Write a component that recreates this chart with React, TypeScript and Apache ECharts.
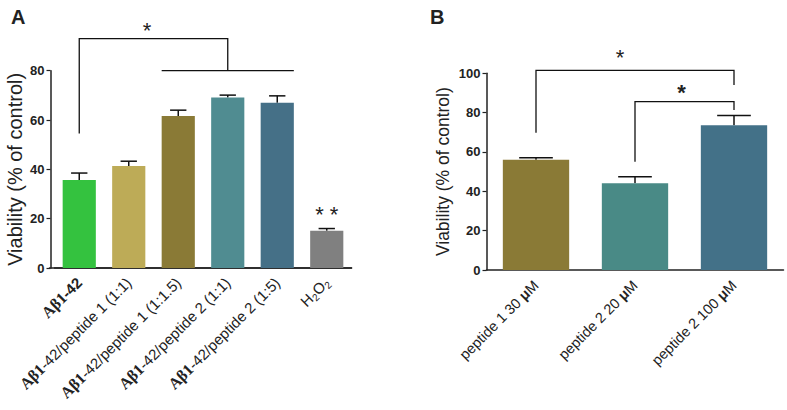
import React, { useEffect, useRef } from "react";
import * as echarts from "echarts";

// ---------- data ----------
const catsA = [
  "Aβ1-42",
  "Aβ1-42/peptide 1 (1:1)",
  "Aβ1-42/peptide 1 (1:1.5)",
  "Aβ1-42/peptide 2 (1:1)",
  "Aβ1-42/peptide 2 (1:5)",
  "H2O2",
];
const valuesA = [35.7, 41.4, 61.6, 69.1, 67.0, 15.1];
const errA = [2.8, 1.9, 2.4, 1.0, 2.8, 0.9];
const colorsA = ["#34C23F", "#BDAB57", "#8A7A36", "#508C91", "#457087", "#808080"];

const catsB = ["peptide 1 30 μM", "peptide 2 20 μM", "peptide 2 100 μM"];
const valuesB = [56.1, 44.1, 73.6];
const errB = [1.0, 3.3, 5.0];
const colorsB = ["#8A7A36", "#498A86", "#437188"];

const yTicksA = [0, 20, 40, 60, 80];
const yTicksB = [0, 20, 40, 60, 80, 100];

// brackets: [from, to, top, leftBottom, rightBottom]
const bracketsA = [[0, 3, 93, 54.5, 80]];
// span lines: [from, to, y]
const spansA = [[2, 4, 80]];
// stars: [x, y, text, bold(1/0)]
const starsA: [number, number, string, number][] = [
  [1.37, 96.5, "*", 0],
  [5, 21.5, "* *", 0],
];
const bracketsB = [
  [0, 2, 101.5, 69.8, 94],
  [1, 2, 85.6, 55, 81.3],
];
const starsB: [number, number, string, number][] = [
  [0.85, 108, "*", 0],
  [1.47, 90, "*", 1],
];

const SANS = "'Liberation Sans', Arial, sans-serif";
const SERIF = "'Liberation Serif', 'Times New Roman', serif";
const AXIS_COLOR = "#222";

function labelA(v: string) {
  if (v === "H2O2") return "{t|H}{s|2}{t|O}{s|2}";
  if (v.startsWith("Aβ1-42/")) return "{ab|Aβ1}{t|" + v.slice(3) + "}";
  return "{ab|Aβ1}{tb|" + v.slice(3) + "}";
}
function labelB(v: string) {
  const i = v.indexOf("μ");
  return "{t|" + v.slice(0, i) + "}{mu|μ}{t|" + v.slice(i + 1) + "}";
}

// category-axis coordinate that also handles fractional positions
function coordAt(api: any, x: number, y: number) {
  const base = Math.floor(x);
  const p = api.coord([base, y]);
  const band = api.size([1, 0])[0];
  return [p[0] + (x - base) * band, p[1]];
}

function errorSeries(xi: number, vals: number[], errs: number[], ratio: number) {
  return {
    type: "custom",
    xAxisIndex: xi,
    yAxisIndex: xi,
    clip: false,
    z: 1,
    data: vals.map((v, i) => [i, v, errs[i]]),
    encode: { x: 0, y: 1 },
    renderItem: (params: any, api: any) => {
      const x = api.value(0);
      const v = api.value(1);
      const e = api.value(2);
      const p0 = api.coord([x, v]);
      const p1 = api.coord([x, v + e]);
      const w = api.size([1, 0])[0] * ratio;
      const st = { stroke: "#111", lineWidth: 1.5 };
      return {
        type: "group",
        children: [
          { type: "line", shape: { x1: p0[0], y1: p0[1], x2: p1[0], y2: p1[1] }, style: st },
          { type: "line", shape: { x1: p1[0] - w / 2, y1: p1[1], x2: p1[0] + w / 2, y2: p1[1] }, style: st },
        ],
      };
    },
  };
}

function bracketSeries(xi: number, rows: number[][]) {
  return {
    type: "custom",
    xAxisIndex: xi,
    yAxisIndex: xi,
    clip: false,
    silent: true,
    data: rows,
    encode: { x: 0, y: 2 },
    renderItem: (params: any, api: any) => {
      const a = api.value(0), b = api.value(1), top = api.value(2), lb = api.value(3), rb = api.value(4);
      const p1 = api.coord([a, lb]);
      const p2 = api.coord([a, top]);
      const p3 = api.coord([b, top]);
      const p4 = api.coord([b, rb]);
      return {
        type: "polyline",
        shape: { points: [p1, p2, p3, p4] },
        style: { stroke: "#111", lineWidth: 1.3, fill: null },
      };
    },
  };
}

function spanSeries(xi: number, rows: number[][], ratio: number) {
  return {
    type: "custom",
    xAxisIndex: xi,
    yAxisIndex: xi,
    clip: false,
    silent: true,
    data: rows,
    encode: { x: 0, y: 2 },
    renderItem: (params: any, api: any) => {
      const a = api.value(0), b = api.value(1), y = api.value(2);
      const half = (api.size([1, 0])[0] * ratio) / 2;
      const p1 = api.coord([a, y]);
      const p2 = api.coord([b, y]);
      return {
        type: "line",
        shape: { x1: p1[0] - half, y1: p1[1], x2: p2[0] + half, y2: p2[1] },
        style: { stroke: "#111", lineWidth: 1.3 },
      };
    },
  };
}

function starSeries(xi: number, rows: [number, number, string, number][]) {
  return {
    type: "custom",
    xAxisIndex: xi,
    yAxisIndex: xi,
    clip: false,
    silent: true,
    data: rows.map((r) => [r[0], r[1], r[3]]),
    encode: { x: 0, y: 1 },
    renderItem: (params: any, api: any) => {
      const r = rows[params.dataIndex];
      const p = coordAt(api, r[0], r[1]);
      return {
        type: "text",
        x: p[0],
        y: p[1],
        style: {
          text: r[2],
          fontSize: 22,
          fontFamily: SANS,
          fontWeight: r[3] ? "bold" : "normal",
          fill: "#222",
          align: "center",
          verticalAlign: "middle",
        },
      };
    },
  };
}

const yAxisCommon = (max: number, name: string, nameSize: number, nameGap: number, gridIndex: number) => ({
  type: "value",
  gridIndex,
  min: 0,
  max,
  interval: 20,
  name,
  nameLocation: "middle",
  nameGap,
  nameRotate: 90,
  nameTextStyle: { fontFamily: SANS, fontSize: nameSize, color: "#222" },
  axisLine: { show: true, lineStyle: { color: AXIS_COLOR, width: 1.5 } },
  axisTick: { show: true, inside: false, length: 4, lineStyle: { color: AXIS_COLOR, width: 1.2 } },
  axisLabel: { fontFamily: SANS, fontSize: 13, fontWeight: "bold", color: "#222", margin: 6 },
  splitLine: { show: false },
});

export default function App() {
  const ref = useRef<HTMLDivElement>(null);
  useEffect(() => {
    if (!ref.current) return;
    const chart = echarts.init(ref.current, null, { renderer: "svg" });
    const richA = {
      t: { fontFamily: SANS, fontSize: 15, color: "#222" },
      tb: { fontFamily: SANS, fontSize: 15, fontWeight: "bold", color: "#222" },
      ab: { fontFamily: SERIF, fontSize: 16, fontWeight: "bold", color: "#222" },
      s: { fontFamily: SANS, fontSize: 10, color: "#222", verticalAlign: "bottom", padding: [9, 0, 0, 0] },
    };
    const richB = {
      t: { fontFamily: SANS, fontSize: 14.5, color: "#222" },
      mu: { fontFamily: SANS, fontSize: 14.5, fontWeight: "bold", color: "#222" },
    };
    chart.setOption({
      animation: false,
      backgroundColor: "#fff",
      title: [
        { text: "A", left: 6, top: 2, textStyle: { fontFamily: SANS, fontSize: 20, fontWeight: "bold", color: "#222" } },
        { text: "B", left: 425, top: 2, textStyle: { fontFamily: SANS, fontSize: 20, fontWeight: "bold", color: "#222" } },
      ],
      grid: [
        { left: 54.5, right: 435.5, top: 70.7, bottom: 142 },
        { left: 486.5, right: 3.5, top: 73.3, bottom: 140 },
        // baseline extension for panel A (x-axis line reaches the offset y-axis)
        { left: 49.5, right: 435.5, top: 70.7, bottom: 142 },
      ],
      xAxis: [
        {
          type: "category",
          gridIndex: 0,
          data: catsA,
          axisLine: { lineStyle: { color: AXIS_COLOR, width: 1.5 } },
          axisTick: { alignWithLabel: true, length: 5, lineStyle: { color: AXIS_COLOR, width: 1.2 } },
          axisLabel: { rotate: 45, interval: 0, margin: 12, formatter: labelA, rich: richA },
        },
        {
          type: "category",
          gridIndex: 1,
          data: catsB,
          axisLine: { lineStyle: { color: AXIS_COLOR, width: 1.5 } },
          axisTick: { alignWithLabel: true, length: 5, lineStyle: { color: AXIS_COLOR, width: 1.2 } },
          axisLabel: { rotate: 45, interval: 0, margin: 13, formatter: labelB, rich: richB },
        },
        {
          type: "value",
          gridIndex: 2,
          axisLine: { show: true, lineStyle: { color: AXIS_COLOR, width: 1.5 } },
          axisTick: { show: false },
          axisLabel: { show: false },
          splitLine: { show: false },
        },
      ],
      yAxis: [
        { ...yAxisCommon(yTicksA[yTicksA.length - 1], "Viability (% of control)", 20, 26, 0), offset: 4 },
        yAxisCommon(yTicksB[yTicksB.length - 1], "Viability (% of control)", 17.5, 35, 1),
        { type: "value", gridIndex: 2, show: false },
      ],
      series: [
        {
          type: "bar",
          xAxisIndex: 0,
          yAxisIndex: 0,
          barWidth: "67%",
          z: 2,
          data: valuesA.map((v, i) => ({ value: v, itemStyle: { color: colorsA[i] } })),
        },
        errorSeries(0, valuesA, errA, 0.33),
        bracketSeries(0, bracketsA),
        spanSeries(0, spansA, 0.67),
        starSeries(0, starsA),
        {
          type: "bar",
          xAxisIndex: 1,
          yAxisIndex: 1,
          barWidth: "67%",
          z: 2,
          data: valuesB.map((v, i) => ({ value: v, itemStyle: { color: colorsB[i] } })),
        },
        errorSeries(1, valuesB, errB, 0.34),
        bracketSeries(1, bracketsB),
        starSeries(1, starsB),
      ],
    });
    return () => chart.dispose();
  }, []);
  return (
    <div
      ref={ref}
      style={{ position: "fixed", left: 0, top: 0, width: 787, height: 410, background: "#fff" }}
    />
  );
}
